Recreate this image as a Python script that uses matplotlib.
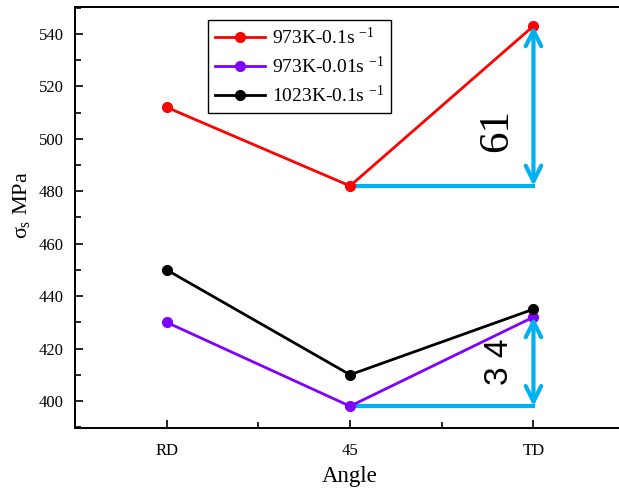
import numpy as np
import matplotlib
matplotlib.use('Agg')
import matplotlib.pyplot as plt
from matplotlib.ticker import MultipleLocator

plt.rcParams['font.family'] = 'Liberation Serif'
plt.rcParams['mathtext.fontset'] = 'custom'
plt.rcParams['mathtext.rm'] = 'Liberation Serif'
plt.rcParams['mathtext.it'] = 'Liberation Serif'

# Data
angles = ['RD', '45', 'TD']
red_973_01 = [512, 482, 543]
purple_973_001 = [430, 398, 432]
black_1023_01 = [450, 410, 435]
labels = ['973K-0.1s $^{-1}$', '973K-0.01s $^{-1}$', '1023K-0.1s $^{-1}$']
colors = ['#FF0000', '#8000FF', '#000000']
diff_hi = 61
diff_lo = 34

x = np.arange(len(angles))
arrow_c = '#00B0F0'

fig = plt.figure(figsize=(6.19, 4.88), dpi=100)
ax = fig.add_axes([0.121, 0.123, 0.889, 0.863])

for ys, lab, c in zip([red_973_01, purple_973_001, black_1023_01], labels, colors):
    ax.plot(x, ys, color=c, lw=2, marker='o', ms=7, label=lab)

# difference markers
for series, d in [(red_973_01, diff_hi), (purple_973_001, diff_lo)]:
    ax.plot([x[1], x[2]], [series[1], series[1]], color=arrow_c, lw=3, zorder=1)
    ax.annotate('', xy=(x[2], series[1] + d), xytext=(x[2], series[1]),
                arrowprops=dict(arrowstyle='<->', color=arrow_c, lw=3,
                                mutation_scale=28, shrinkA=0, shrinkB=0))

ax.text(1.80, 503, str(diff_hi), rotation=90, fontsize=31,
        ha='center', va='center', family='Liberation Serif')
ax.text(1.815, 415, '3 4', rotation=90, fontsize=24,
        ha='center', va='center', family='Liberation Sans')

ax.set_xlim(-0.5, 2.5)
ax.set_ylim(389.7, 550.3)
ax.set_xticks(x)
ax.set_xticklabels(angles)
ax.xaxis.set_minor_locator(MultipleLocator(0.5))
ax.yaxis.set_major_locator(MultipleLocator(20))
ax.yaxis.set_minor_locator(MultipleLocator(10))
ax.tick_params(which='both', direction='in', labelsize=12, width=1.2)
ax.tick_params(which='major', length=6)
ax.tick_params(which='minor', length=4)
ax.tick_params(axis='x', which='major', pad=11)
ax.tick_params(axis='y', which='major', pad=8)
ax.spines['right'].set_visible(False)
for s in ['left', 'bottom', 'top']:
    ax.spines[s].set_linewidth(1.4)

ax.set_xlabel('Angle', fontsize=16.5, labelpad=5)
ax.set_ylabel(r'$\sigma_{\rm s}$ MPa', fontsize=16)
ax.yaxis.set_label_coords(-0.078, 0.53)

leg = ax.legend(loc='upper left', bbox_to_anchor=(0.242, 0.969), fontsize=14,
                fancybox=False, edgecolor='black', framealpha=1, borderaxespad=0,
                handlelength=2.6, borderpad=0.35, labelspacing=0.4, handletextpad=0.35)
leg.get_frame().set_linewidth(1)

fig.savefig('out.png', dpi=100)
